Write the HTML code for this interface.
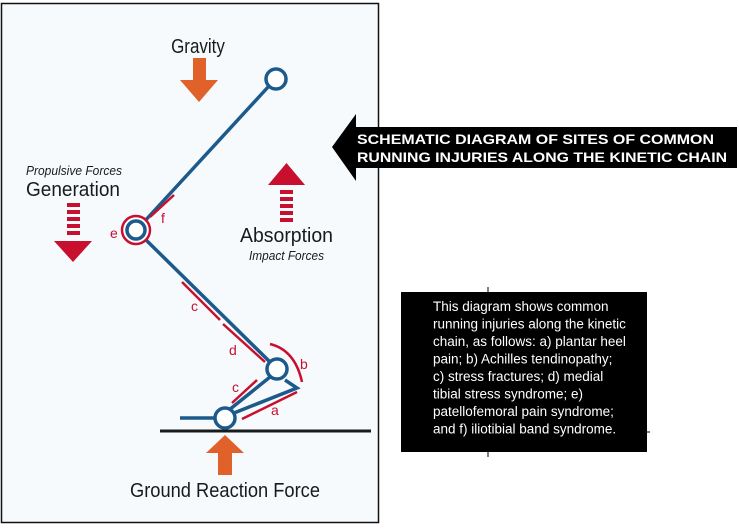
<!DOCTYPE html>
<html><head><style>
body{margin:0;background:#fff;}
svg{display:block;}
text{font-family:"Liberation Sans",sans-serif;}
</style></head><body>
<svg width="739" height="529" viewBox="0 0 739 529" xmlns="http://www.w3.org/2000/svg">
<rect x="1.5" y="3.5" width="377" height="519" fill="#f6fafc" stroke="#111" stroke-width="1.5"/>
<!-- banner -->
<polygon points="332,147 356,114 356,127 737,127 737,168 356,168 356,181" fill="#000"/>
<text x="357" y="144" fill="#fff" font-size="14" font-weight="bold" textLength="357" lengthAdjust="spacingAndGlyphs">SCHEMATIC DIAGRAM OF SITES OF COMMON</text>
<text x="357" y="162" fill="#fff" font-size="14" font-weight="bold" textLength="370" lengthAdjust="spacingAndGlyphs">RUNNING INJURIES ALONG THE KINETIC CHAIN</text>
<!-- text box -->
<line x1="488" y1="287" x2="488" y2="457" stroke="#000" stroke-width="1"/>
<line x1="640" y1="432" x2="650" y2="432" stroke="#000" stroke-width="1"/>
<rect x="401" y="292" width="246" height="160" fill="#000"/>
<g fill="#fff" font-size="13.5">
<text x="433" y="311">This diagram shows common</text>
<text x="433" y="328.5">running injuries along the kinetic</text>
<text x="433" y="346">chain, as follows: a) plantar heel</text>
<text x="433" y="363.5">pain; b) Achilles tendinopathy;</text>
<text x="433" y="381">c) stress fractures; d) medial</text>
<text x="433" y="398.5">tibial stress syndrome; e)</text>
<text x="433" y="416">patellofemoral pain syndrome;</text>
<text x="433" y="433.5">and f) iliotibial band syndrome.</text>
</g>
<!-- labels -->
<g fill="#1a1a1a">
<text x="198" y="53" font-size="20" text-anchor="middle" transform="translate(198 0) scale(0.85 1) translate(-198 0)">Gravity</text>
<text x="26" y="175" font-size="13" font-style="italic" textLength="96" lengthAdjust="spacingAndGlyphs">Propulsive Forces</text>
<text x="26" y="196" font-size="20" textLength="94" lengthAdjust="spacingAndGlyphs">Generation</text>
<text x="240" y="242" font-size="20" textLength="93" lengthAdjust="spacingAndGlyphs">Absorption</text>
<text x="249" y="260" font-size="13" font-style="italic" textLength="75" lengthAdjust="spacingAndGlyphs">Impact Forces</text>
<text x="130" y="497" font-size="20" textLength="190" lengthAdjust="spacingAndGlyphs">Ground Reaction Force</text>
</g>
<!-- arrows -->
<g fill="#e0612a">
<polygon points="193,58 206,58 206,80 218,80 199,102 180,80 193,80"/>
<polygon points="218,475 232,475 232,453 244,453 225,435 206,453 218,453"/>
</g>
<g fill="#c8102e">
<rect x="67" y="203" width="13" height="4"/><rect x="67" y="210" width="13" height="4"/><rect x="67" y="217" width="13" height="4"/><rect x="67" y="224" width="13" height="4"/><rect x="67" y="231" width="13" height="4"/>
<polygon points="54,241 92,241 73,262"/>
<polygon points="268,185 305,185 286.5,163"/>
<rect x="280" y="190" width="13" height="4"/><rect x="280" y="197" width="13" height="4"/><rect x="280" y="204" width="13" height="4"/><rect x="280" y="211" width="13" height="4"/><rect x="280" y="218" width="13" height="4"/>
</g>
<!-- ground -->
<line x1="160" y1="431" x2="371" y2="431" stroke="#1a1a1a" stroke-width="3"/>
<!-- skeleton -->
<g stroke="#1c5a8c" stroke-width="3.5" fill="none">
<line x1="269" y1="86" x2="143" y2="223"/>
<line x1="143" y1="237" x2="270" y2="362"/>
<line x1="229" y1="410" x2="270" y2="377"/>
<polyline points="285,380 297,388 234,413"/>
<line x1="180" y1="418" x2="215" y2="418"/>
</g>
<g stroke="#1c5a8c" stroke-width="3.5" fill="#fff">
<circle cx="276" cy="79" r="10"/>
<circle cx="277" cy="369" r="10"/>
<circle cx="225" cy="418" r="10"/>
</g>
<circle cx="136" cy="230" r="14" fill="#fff" stroke="#c8102e" stroke-width="2.5"/>
<circle cx="136" cy="230" r="9" fill="#fff" stroke="#1c5a8c" stroke-width="3.5"/>
<!-- red injury lines -->
<g stroke="#c8102e" stroke-width="2.5" fill="none">
<line x1="174" y1="195" x2="150" y2="217"/>
<line x1="182" y1="282" x2="220" y2="320"/>
<line x1="223" y1="324" x2="265" y2="362"/>
<path d="M270,344 Q295,350 302,382"/>
<line x1="232" y1="403" x2="257" y2="380"/>
<line x1="242" y1="419" x2="297" y2="392"/>
</g>
<g fill="#c8102e" font-size="14">
<text x="110" y="238">e</text>
<text x="161" y="223">f</text>
<text x="191" y="311">c</text>
<text x="229" y="355">d</text>
<text x="300" y="369">b</text>
<text x="232" y="392">c</text>
<text x="271" y="415">a</text>
</g>
</svg>
</body></html>
